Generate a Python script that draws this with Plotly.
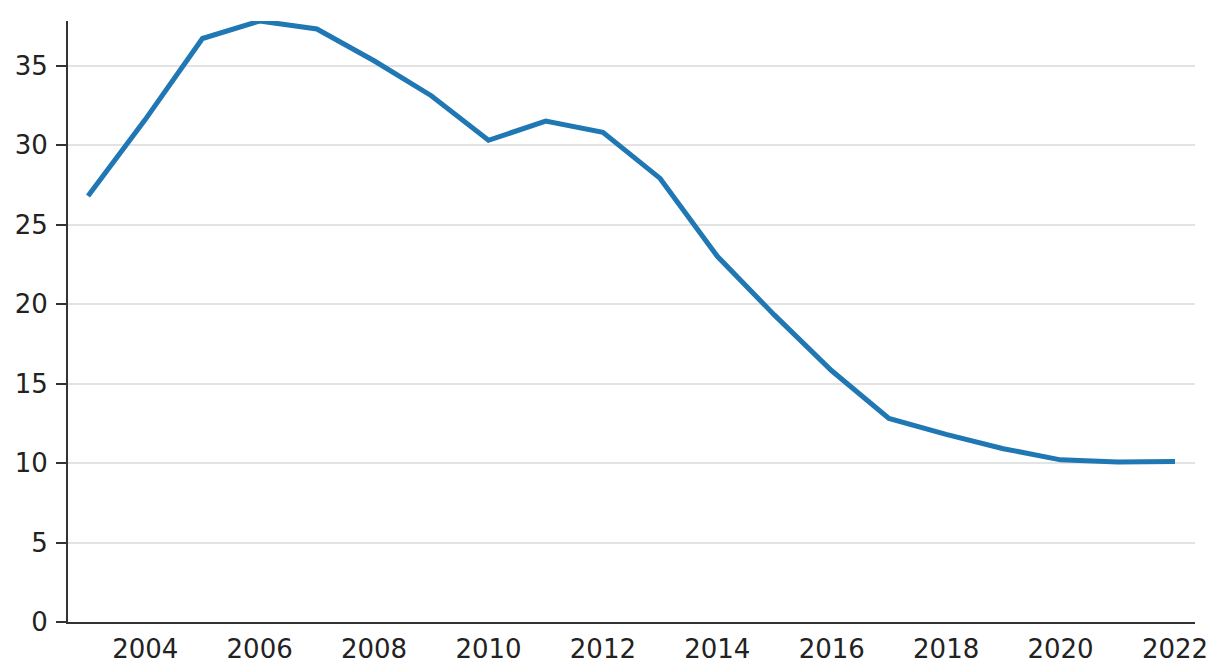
import plotly.graph_objects as go

years = list(range(2003, 2023))
values = [26.8, 31.6, 36.7, 37.8, 37.3, 35.3, 33.1, 30.3, 31.5, 30.8,
          27.9, 23.0, 19.3, 15.8, 12.8, 11.8, 10.9, 10.2, 10.07, 10.1]
y_ticks = [0, 5, 10, 15, 20, 25, 30, 35]
x_ticks = list(range(2004, 2023, 2))

fig = go.Figure(go.Scatter(x=years, y=values, mode="lines",
                           line=dict(color="#1f77b4", width=5), hoverinfo="skip",
                           cliponaxis=False))

font = dict(family="DejaVu Sans", size=26, color="#222")
fig.update_layout(
    width=1212, height=662,
    margin=dict(l=60, r=25, t=13, b=48, autoexpand=False),
    paper_bgcolor="white", plot_bgcolor="white",
    showlegend=False, font=font,
)
fig.update_xaxes(range=[2002.65, 2022.35], tickvals=x_ticks, ticktext=[str(v) for v in x_ticks],
                 showgrid=False, showline=True, linecolor="#333", linewidth=2,
                 ticks="", zeroline=False, tickfont=font, automargin=False,
                 ticklabelstandoff=3)
fig.update_yaxes(range=[0, 37.8], tickvals=y_ticks, showgrid=True, gridcolor="#e3e3e3", gridwidth=1.5,
                 showline=True, linecolor="#333", linewidth=2, ticks="outside", ticklen=10,
                 tickcolor="#333", tickwidth=2, zeroline=False, tickfont=font, automargin=False,
                 ticklabelstandoff=3)
fig.write_html("out.html")
